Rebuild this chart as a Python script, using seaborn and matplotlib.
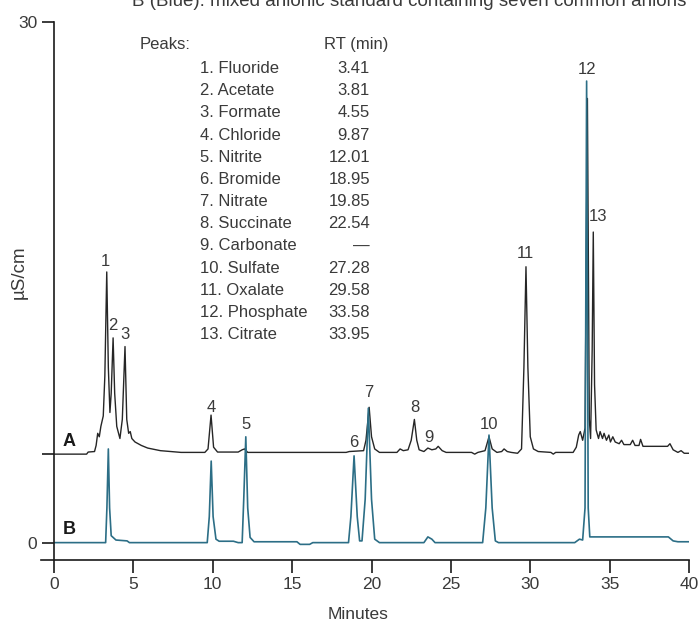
import pandas as pd
import matplotlib.pyplot as plt
import seaborn as sns

# ---------------------------
# Data
# ---------------------------
# Trace A (black), signal relative to its own baseline (µS/cm)
a_time = [0.0, 2.05, 2.15, 2.55, 2.65, 2.75, 2.85, 2.95, 3.1, 3.2, 3.32, 3.42, 3.52, 3.6,
          3.72, 3.82, 3.95, 4.15, 4.3, 4.47, 4.58, 4.7, 4.8, 4.9, 5.1, 5.5, 5.9, 6.7, 8.0,
          9.5, 9.7, 9.89, 10.05, 10.3, 11.6, 11.85, 12.0, 12.2, 18.4, 18.6, 19.5, 19.65,
          19.85, 20.0, 20.2, 20.5, 21.6, 21.8, 22.0, 22.3, 22.5, 22.7, 22.85, 23.0, 23.3,
          23.55, 23.8, 24.05, 24.2, 24.45, 24.7, 26.3, 26.5, 26.7, 27.15, 27.4, 27.6, 27.9,
          28.2, 28.35, 28.55, 28.8, 29.2, 29.45, 29.6, 29.73, 29.85, 30.0, 30.2, 30.5, 31.3,
          31.45, 31.6, 32.7, 32.9, 33.05, 33.15, 33.3, 33.45, 33.6, 33.72, 33.8, 33.9, 33.97,
          34.05, 34.15, 34.3, 34.4, 34.55, 34.65, 34.8, 34.95, 35.05, 35.2, 35.35, 35.6,
          35.75, 35.9, 36.3, 36.45, 36.6, 36.85, 36.95, 37.1, 38.65, 38.8, 39.0, 39.3, 39.5,
          39.7, 40.0]
a_signal = [0.0, 0.0, 0.12, 0.15, 0.5, 1.2, 1.0, 1.6, 2.2, 4.5, 10.5, 5.0, 2.4, 3.5,
            6.7, 3.5, 1.6, 0.9, 2.0, 6.2, 2.0, 1.2, 1.3, 0.9, 0.7, 0.5, 0.35, 0.2, 0.1,
            0.1, 0.3, 2.25, 0.4, 0.12, 0.12, 0.25, 0.3, 0.1, 0.1, 0.15, 0.2, 0.8,
            2.7, 1.0, 0.3, 0.1, 0.1, 0.3, 0.2, 0.25, 0.8, 2.0, 0.8, 0.25, 0.15,
            0.35, 0.25, 0.3, 0.45, 0.2, 0.1, 0.1, 0.0, 0.1, 0.2, 1.0, 0.3, 0.1,
            0.15, 0.3, 0.15, 0.1, 0.05, 0.3, 5.0, 10.8, 5.0, 1.0, 0.3, 0.15, 0.1,
            0.0, 0.1, 0.1, 0.4, 1.1, 1.3, 0.8, 1.5, 20.5, 2.0, 0.9, 6.0, 12.8,
            4.0, 1.4, 0.9, 1.3, 0.9, 1.2, 0.8, 1.1, 0.7, 1.0, 0.7, 0.6,
            0.8, 0.55, 0.55, 0.8, 0.5, 0.5, 0.85, 0.45, 0.45, 0.6, 0.25, 0.1, 0.2,
            0.05, 0.05]
a_baseline = 5.1

# Trace B (blue), mixed anionic standard
b_time = [0.0, 3.25, 3.33, 3.42, 3.5, 3.6, 3.9, 4.6, 4.75, 9.65, 9.78, 9.9, 10.02, 10.2,
          10.4, 11.3, 11.6, 11.85, 11.95, 12.08, 12.2, 12.35, 12.6, 15.3, 15.5, 16.1, 16.3,
          18.55, 18.7, 18.9, 19.1, 19.25, 19.4, 19.6, 19.8, 20.0, 20.2, 20.5, 23.3, 23.55,
          23.8, 24.0, 27.0, 27.2, 27.4, 27.6, 27.8, 28.0, 32.8, 33.1, 33.3, 33.45, 33.55,
          33.65, 33.75, 38.7, 39.0, 39.3, 40.0]
b_signal = [0.0, 0.0, 2.0, 5.4, 2.0, 0.4, 0.15, 0.1, 0.0, 0.0, 1.5, 4.7, 1.5, 0.2,
            0.08, 0.08, 0.0, 0.0, 2.5, 6.1, 2.0, 0.3, 0.05, 0.05, -0.1, -0.1, 0.0,
            0.0, 1.5, 5.0, 1.5, 0.1, 0.1, 2.5, 7.75, 2.5, 0.2, 0.0, 0.0, 0.33,
            0.2, 0.0, 0.0, 2.0, 6.2, 2.0, 0.1, 0.0, 0.0, 0.2, 0.15, 2.0, 26.6,
            2.0, 0.33, 0.33, 0.1, 0.05, 0.05]

# Peak number labels (time, height of label centre)
peak_num = ["1", "2", "3", "4", "5", "6", "7", "8", "9", "10", "11", "12", "13"]
label_t = [3.21, 3.72, 4.47, 9.89, 12.08, 18.9, 19.84, 22.74, 23.62, 27.4, 29.71, 33.56, 34.25]
label_y = [16.2, 12.5, 12.0, 7.78, 6.8, 5.76, 8.66, 7.78, 6.05, 6.8, 16.66, 27.26, 18.8]

# Peak table
peak_names = ["Fluoride", "Acetate", "Formate", "Chloride", "Nitrite", "Bromide", "Nitrate",
              "Succinate", "Carbonate", "Sulfate", "Oxalate", "Phosphate", "Citrate"]
peak_rt = ["3.41", "3.81", "4.55", "9.87", "12.01", "18.95", "19.85", "22.54", "\u2014",
           "27.28", "29.58", "33.58", "33.95"]

df_a = pd.DataFrame({"time": a_time, "signal": a_signal})
df_a["signal"] = df_a["signal"] + a_baseline
df_b = pd.DataFrame({"time": b_time, "signal": b_signal})

# ---------------------------
# Plot
# ---------------------------
sns.set_style("ticks")
plt.rcParams["font.family"] = ["Liberation Sans", "DejaVu Sans"]
text_col = "#3a3a3a"

fig = plt.figure(figsize=(6.99, 6.24), dpi=100)
ax = fig.add_axes([0.0587, 0.1026, 0.927, 0.862])

sns.lineplot(data=df_a, x="time", y="signal", estimator=None, sort=False,
             color="#262626", linewidth=1.0, ax=ax)
sns.lineplot(data=df_b, x="time", y="signal", estimator=None, sort=False,
             color="#2c6e86", linewidth=1.2, ax=ax)

ax.set_xlim(-0.82, 40)
ax.set_ylim(-1, 30)
ax.spines["top"].set_visible(False)
ax.spines["right"].set_visible(False)
ax.spines["left"].set_position(("data", 0))
for s in ["left", "bottom"]:
    ax.spines[s].set_linewidth(1.2)
    ax.spines[s].set_color("#1a1a1a")

ax.set_xticks(range(0, 41, 5))
ax.set_yticks([0, a_baseline, 30])
ax.set_yticklabels(["0", "", "30"])
ax.tick_params(direction="out", length=9, width=1.2, color="#1a1a1a",
               labelsize=12.5, labelcolor=text_col, pad=3)

ax.set_xlabel("Minutes", fontsize=12.5, color=text_col)
ax.xaxis.set_label_coords(0.489, -0.088)
ax.set_ylabel("\u00b5S/cm", fontsize=13.5, color=text_col)
ax.yaxis.set_label_coords(-0.02, 0.535)

for num, t, y in zip(peak_num, label_t, label_y):
    ax.text(t, y, num, ha="center", va="center", fontsize=12, color=text_col)

ax.text(0.55, a_baseline + 0.7, "A", fontsize=13, fontweight="bold", color="#1a1a1a",
        va="center")
ax.text(0.55, 0.75, "B", fontsize=13, fontweight="bold", color="#1a1a1a", va="center")

# peak table
ax.text(5.4, 28.7, "Peaks:", fontsize=12, color=text_col, va="center")
ax.text(21.04, 28.7, "RT (min)", fontsize=12, color=text_col, va="center", ha="right")
for i, (name, rt) in enumerate(zip(peak_names, peak_rt)):
    y = 27.32 - i * 1.278
    ax.text(9.2, y, f"{i + 1}. {name}", fontsize=12, color=text_col, va="center")
    ax.text(19.9, y, rt, fontsize=12, color=text_col, va="center", ha="right")

fig.text(0.585, 0.998, "B (Blue): mixed anionic standard containing seven common anions",
         fontsize=13.5, color=text_col, ha="center", va="center")

plt.savefig("out.png", dpi=100)
plt.close()
